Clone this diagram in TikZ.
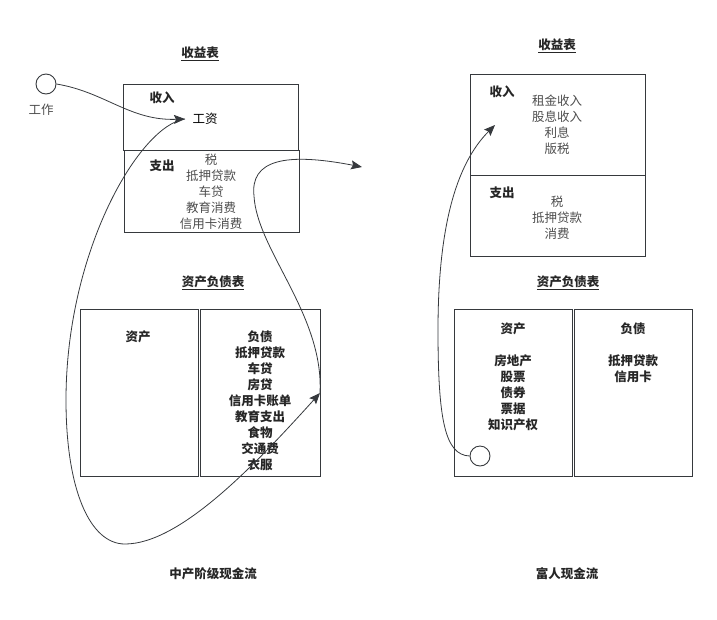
\documentclass[tikz,border=0pt]{standalone}
\usepackage{fontspec}
\setmainfont{Noto Sans CJK SC}
\usetikzlibrary{arrows.meta}
\definecolor{edge}{HTML}{36393D}
\definecolor{lite}{HTML}{4D4D4D}
\tikzset{
  box/.style={draw=edge, line width=0.9pt},
  tx/.style={font=\fontsize{12.5}{16}\selectfont, align=center, inner sep=0pt, text=lite},
  bx/.style={font=\fontsize{12.5}{16}\selectfont\bfseries, align=center, inner sep=0pt, text=black!85},
  ttl/.style={font=\fontsize{12.5}{16}\selectfont\bfseries, inner sep=0pt, text=black!85},
  flow/.style={draw=edge, line width=0.8pt, -{Stealth[length=11pt,width=9pt,inset=2pt]}},
  dot/.style={circle, draw=edge, line width=0.9pt, minimum size=20pt, inner sep=0pt, fill=white}
}
\begin{document}
\begin{tikzpicture}[x=1pt,y=-1pt]
\useasboundingbox (0,0) rectangle (717,619);
% ---------- left: middle class ----------
\node[ttl] (t1) at (200,54) {\underline{收益表}};
\draw[box] (123,84) rectangle (298,150);
\draw[box] (124,150) rectangle (299,232);
\node[bx] (in1) at (162,98) {收入};
\node[tx, text=black] (salary) at (205,119) {工资};
\node[bx] (out1) at (162,166) {支出};
\node[tx] (exp1) at (211,192) {税\\抵押贷款\\车贷\\教育消费\\信用卡消费};
\node[dot] (work) at (46,84) {};
\node[tx] (workl) at (41,110) {工作};

\node[ttl] (t2) at (213,283) {\underline{资产负债表}};
\draw[box] (80,309) rectangle (198,476);
\draw[box] (200,309) rectangle (320,476);
\node[bx] (as1) at (138,337) {资产};
\node[bx] (li1) at (260,401) {负债\\抵押贷款\\车贷\\房贷\\信用卡账单\\教育支出\\食物\\交通费\\衣服};
\node[bx] (c1) at (213,574) {中产阶级现金流};

\coordinate (liab) at (320,393);
\coordinate (away) at (362,167);
\coordinate (sal) at (185,119);

\draw[flow] (work.east) .. controls (105,92) and (130,121) .. (sal);
\draw[flow] (sal) .. controls (140,125) and (66,250) .. (66,400)
   .. controls (66,490) and (90,544) .. (125,544)
   .. controls (180,544) and (255,465) .. (liab);
\draw[flow] (liab) .. controls (324,315) and (257,250) .. (254,196)
   .. controls (250,160) and (285,152) .. (away);

% ---------- right: rich ----------
\node[ttl] (t3) at (557,46) {\underline{收益表}};
\draw[box] (470,74) rectangle (645,175);
\draw[box] (470,175) rectangle (645,256);
\node[bx] (in2) at (502,92) {收入};
\node[tx] (inc2) at (557,125) {租金收入\\股息收入\\利息\\版税};
\node[bx] (out2) at (502,193) {支出};
\node[tx] (exp2) at (557,218) {税\\抵押贷款\\消费};

\node[ttl] (t4) at (568,283) {\underline{资产负债表}};
\draw[box] (454,309) rectangle (572,476);
\draw[box] (574,309) rectangle (692,476);
\node[bx] (as2) at (513,329) {资产};
\node[bx] (as2i) at (513,393) {房地产\\股票\\债券\\票据\\知识产权};
\node[bx] (li2) at (633,329) {负债};
\node[bx] (li2i) at (633,369) {抵押贷款\\信用卡};
\node[dot] (asset) at (480,456) {};
\node[bx] (c2) at (567,574) {富人现金流};

\coordinate (inc) at (495,125);
\draw[flow] (asset.west) .. controls (445,455) and (438,420) .. (438,330)
   .. controls (438,230) and (455,165) .. (inc);
\end{tikzpicture}
\end{document}
